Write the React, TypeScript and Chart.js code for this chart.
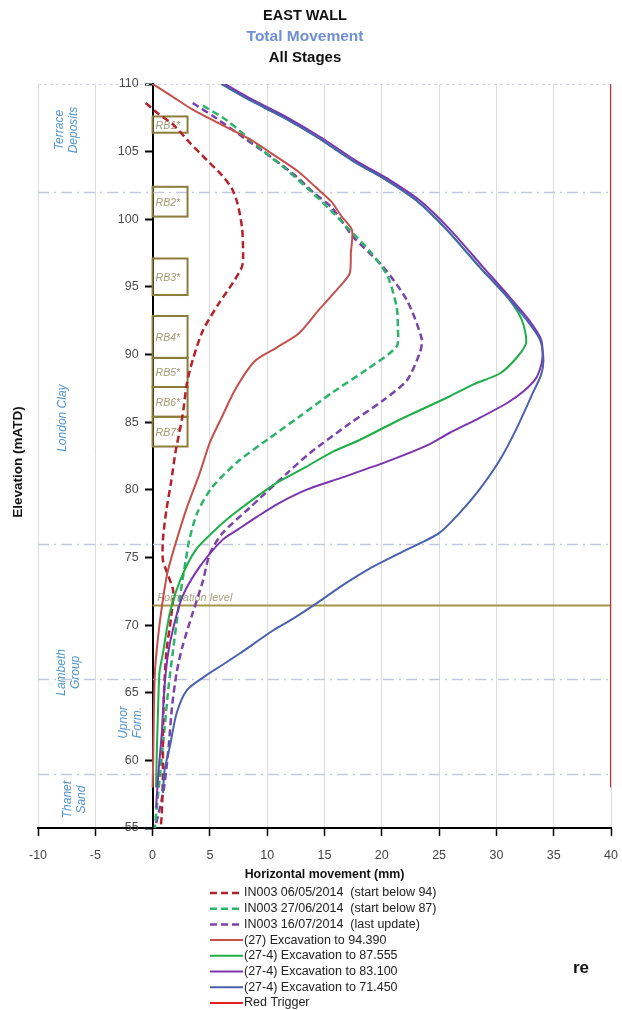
import React, { useEffect, useRef } from "react";
import { Chart, registerables } from "chart.js";

Chart.register(...registerables);

type Pt = [number, number]; // [horizontal movement (mm), elevation (mATD)]

const titleLines = ["EAST WALL", "Total Movement", "All Stages"];
const xAxisTitle = "Horizontal movement (mm)";
const yAxisTitle = "Elevation (mATD)";
const strayText = "re";

const xMin = -10;
const xMax = 40;
const xStep = 5;
const yMin = 55;
const yMax = 110;
const yStep = 5;

const seriesLabels = [
  "IN003 06/05/2014  (start below 94)",
  "IN003 27/06/2014  (start below 87)",
  "IN003 16/07/2014  (last update)",
  "(27) Excavation to 94.390",
  "(27-4) Excavation to 87.555",
  "(27-4) Excavation to 83.100",
  "(27-4) Excavation to 71.450",
  "Red Trigger",
];

const in003_0605: Pt[] = [
  [-0.6, 108.6], [0.5, 107.8], [1.8, 107.0], [3.2, 105.7], [4.7, 104.4], [6.0, 103.3],
  [6.9, 102.3], [7.4, 101.2], [7.8, 99.4], [7.9, 97.5], [7.8, 96.5], [7.0, 95.3],
  [5.8, 93.8], [4.4, 91.8], [3.5, 89.6], [3.0, 87.9], [2.6, 85.4], [2.0, 82.8],
  [1.6, 80.5], [1.2, 78.5], [0.9, 76.3], [0.9, 74.8], [1.3, 73.8], [1.8, 72.5],
  [1.6, 70.5], [1.2, 68.0], [1.0, 65.0], [0.9, 62.0], [0.9, 59.0], [0.8, 56.0], [0.7, 55.0],
];

const in003_2706: Pt[] = [
  [4.4, 108.4], [6.5, 107.3], [9.3, 105.3], [11.5, 103.8], [13.5, 102.3], [15.5, 100.7],
  [17.2, 99.2], [19.0, 97.6], [20.5, 95.8], [21.3, 93.5], [21.4, 92.0], [21.3, 90.6],
  [18.7, 88.9], [15.7, 87.2], [12.8, 85.4], [10.0, 83.7], [7.6, 82.2], [5.2, 80.2],
  [3.9, 78.3], [3.2, 76.3], [2.9, 74.8], [2.6, 73.3], [2.2, 70.9], [1.75, 67.9],
  [1.4, 65.5], [1.0, 62.0], [0.6, 58.5], [0.3, 56.0], [0.2, 55.0],
];

const in003_1607: Pt[] = [
  [3.5, 108.6], [5.5, 107.5], [8.0, 106.0], [10.5, 104.5], [12.5, 103.2], [14.0, 102.0],
  [15.6, 100.9], [17.5, 98.7], [20.1, 96.5], [22.2, 94.0], [23.5, 91.1], [23.3, 90.1],
  [22.2, 88.1], [20.1, 86.6], [17.2, 84.9], [13.7, 82.7], [11.7, 81.2], [8.5, 78.7],
  [6.1, 76.8], [5.0, 75.3], [4.4, 73.3], [3.5, 70.9], [2.6, 68.4], [2.1, 66.5],
  [1.7, 64.0], [1.4, 61.0], [1.0, 58.0], [0.5, 56.0], [0.2, 55.0],
];

const exc27_94390: Pt[] = [
  [0, 110], [1.5, 109.2], [3.5, 108.1], [6.0, 107.0], [8.5, 105.9], [10.5, 104.8],
  [12.6, 103.6], [14.2, 102.4], [15.6, 101.3], [16.5, 100.2], [17.4, 99.2], [17.3, 97.5],
  [17.2, 96.0], [16.3, 95.0], [14.5, 93.3], [12.8, 91.6], [10.8, 90.5], [8.9, 89.5],
  [7.2, 87.4], [6.0, 85.3], [5.0, 83.5], [4.1, 81.2], [3.0, 78.7], [2.1, 76.3],
  [1.3, 73.9], [0.8, 71.3], [0.45, 68.9], [0.2, 66.5], [0.1, 63.0], [0.05, 60.0], [0, 58.0],
];

const exc274_87555: Pt[] = [
  [6.0, 110], [8.5, 108.8], [11.5, 107.5], [14.3, 106.1], [17.5, 104.3], [20.4, 102.9],
  [23.0, 101.4], [25.7, 99.2], [28.5, 96.5], [30.9, 94.3], [32.2, 92.6], [32.6, 90.9],
  [31.8, 89.8], [30.3, 88.6], [28.0, 87.8], [25.9, 86.9], [21.6, 85.2], [18.1, 83.7],
  [15.7, 82.8], [13.4, 81.7], [11.0, 80.6], [9.1, 79.5], [7.2, 78.3], [5.8, 77.3],
  [3.8, 75.6], [2.4, 73.3], [1.5, 70.9], [0.9, 67.9], [0.6, 66.5], [0.45, 63.0],
  [0.35, 60.0], [0.3, 58.0],
];

const exc274_83100: Pt[] = [
  [6.3, 110], [8.8, 108.8], [11.8, 107.5], [14.6, 106.1], [17.8, 104.3], [20.7, 102.9],
  [23.3, 101.4], [26.0, 99.2], [28.8, 96.5], [31.1, 94.3], [32.8, 92.6], [33.9, 91.1],
  [34.0, 89.6], [33.5, 88.3], [32.4, 87.3], [30.9, 86.4], [28.5, 85.3], [25.9, 84.2],
  [24.0, 83.3], [20.5, 82.1], [16.5, 80.9], [13.4, 80.0], [11.0, 79.0], [9.1, 78.0],
  [7.5, 77.1], [6.1, 76.3], [4.1, 74.3], [2.6, 72.1], [1.75, 69.6], [1.3, 67.6],
  [1.0, 65.0], [0.8, 62.0], [0.5, 59.0], [0.3, 56.5],
];

const exc274_71450: Pt[] = [
  [6.0, 110], [8.5, 108.8], [11.5, 107.5], [14.3, 106.1], [17.5, 104.3], [20.4, 102.9],
  [23.0, 101.4], [25.7, 99.2], [28.5, 96.5], [30.9, 94.3], [32.6, 92.6], [33.8, 91.1],
  [34.1, 89.6], [33.9, 88.5], [33.2, 87.2], [31.8, 84.6], [30.3, 82.2], [28.5, 80.0],
  [26.8, 78.3], [25.0, 76.8], [22.0, 75.5], [19.2, 74.3], [16.5, 72.9], [14.3, 71.6],
  [12.3, 70.5], [10.5, 69.6], [7.6, 67.9], [5.8, 66.9], [4.7, 66.3], [3.0, 65.2],
  [2.1, 63.5], [1.5, 61.0], [1.05, 59.3], [0.9, 57.6],
];

const redTrigger: Pt[] = [[40, 110], [40, 58]];

const seriesData: Pt[][] = [
  in003_0605, in003_2706, in003_1607, exc27_94390, exc274_87555, exc274_83100, exc274_71450, redTrigger,
];

const seriesColors = ["#b5222a", "#2db36a", "#7a44a8", "#c4504c", "#1fae48", "#7b35b0", "#4a62ae", "#e31e24"];
const seriesDashed = [true, true, true, false, false, false, false, false];
// lower number = drawn on top
const seriesOrder = [4, 5, 6, 3, 2, 1, 0, 7];

const formationLevel = 71.45;
const formationLabel = "Formation level";

const layerBoundaries = [102, 76, 66, 59];
const layerNames = [["Terrace", "Deposits"], ["London Clay"], ["Lambeth", "Group"], ["Upnor", "Form."], ["Thanet", "Sand"]];
const layerLabelElev = [106.6, 85.3, 66.5, 62.8, 57.1];
const layerLabelMm = [-7.5, -7.85, -7.3, -1.9, -6.8];

const rbNames = ["RB1*", "RB2*", "RB3*", "RB4*", "RB5*", "RB6*", "RB7*"];
const rbTop = [107.6, 102.4, 97.1, 92.85, 89.75, 87.6, 85.4];
const rbBottom = [106.4, 100.2, 94.4, 89.75, 87.6, 85.4, 83.2];
const rbRightMm = 3.05;

const FONT = "'Liberation Sans', Arial, sans-serif";

const overlayPlugin = {
  id: "overlay",
  beforeDatasetsDraw(chart: any) {
    const { ctx, chartArea } = chart;
    const x = chart.scales.x;
    const y = chart.scales.y;
    ctx.save();
    // faint top line
    ctx.strokeStyle = "#d6dae6";
    ctx.lineWidth = 1;
    ctx.setLineDash([3, 3]);
    ctx.beginPath();
    ctx.moveTo(chartArea.left, chartArea.top + 0.5);
    ctx.lineTo(chartArea.right, chartArea.top + 0.5);
    ctx.stroke();
    // layer boundaries (dash-dot)
    ctx.strokeStyle = "#c3c9dc";
    ctx.lineWidth = 1.5;
    ctx.setLineDash([11, 5, 2, 5]);
    for (const e of layerBoundaries) {
      const py = Math.round(y.getPixelForValue(e)) + 0.5;
      ctx.beginPath();
      ctx.moveTo(chartArea.left, py);
      ctx.lineTo(chartArea.right, py);
      ctx.stroke();
    }
    ctx.setLineDash([]);
    // layer labels
    ctx.fillStyle = "#4f95cf";
    ctx.font = `italic 12px ${FONT}`;
    ctx.textAlign = "center";
    ctx.textBaseline = "middle";
    layerNames.forEach((lines, i) => {
      const px = x.getPixelForValue(layerLabelMm[i]);
      const py = y.getPixelForValue(layerLabelElev[i]);
      ctx.save();
      ctx.translate(px, py);
      ctx.rotate(-Math.PI / 2);
      lines.forEach((t, j) => {
        ctx.fillText(t, 0, (j - (lines.length - 1) / 2) * 14);
      });
      ctx.restore();
    });
    // y tick labels (left of the axis drawn at x = 0)
    const axisX = x.getPixelForValue(0);
    ctx.fillStyle = "#4a4a4a";
    ctx.font = `12.5px ${FONT}`;
    ctx.textAlign = "right";
    ctx.textBaseline = "middle";
    y.ticks.forEach((t: any) => {
      ctx.fillText(String(t.value), axisX - 14, y.getPixelForValue(t.value));
    });
    // RB boxes
    const l = x.getPixelForValue(0);
    const r = x.getPixelForValue(rbRightMm);
    rbNames.forEach((name, i) => {
      const t = y.getPixelForValue(rbTop[i]);
      const b = y.getPixelForValue(rbBottom[i]);
      ctx.strokeStyle = "#8c7c3a";
      ctx.lineWidth = 2;
      ctx.strokeRect(l, t, r - l, b - t);
      ctx.fillStyle = "#a29b72";
      ctx.font = `italic 10.5px ${FONT}`;
      ctx.textAlign = "left";
      ctx.textBaseline = "middle";
      ctx.fillText(name, l + 3, (t + b) / 2 + 1);
    });
    // formation level
    const fy = y.getPixelForValue(formationLevel);
    ctx.fillStyle = "#a7a282";
    ctx.font = `italic 11px ${FONT}`;
    ctx.textAlign = "left";
    ctx.textBaseline = "bottom";
    ctx.fillText(formationLabel, x.getPixelForValue(0.4), fy - 2);
    ctx.strokeStyle = "#a39447";
    ctx.lineWidth = 2;
    ctx.beginPath();
    ctx.moveTo(x.getPixelForValue(0), fy);
    ctx.lineTo(x.getPixelForValue(40), fy);
    ctx.stroke();
    ctx.restore();
  },
  afterDraw(chart: any) {
    const { ctx, chartArea } = chart;
    ctx.save();
    // titles
    ctx.textAlign = "center";
    ctx.textBaseline = "middle";
    const titleColors = ["#111111", "#6f90d2", "#111111"];
    const titleSizes = [14.5, 15.5, 15];
    const titleY = [16, 37, 58];
    titleLines.forEach((t, i) => {
      ctx.fillStyle = titleColors[i];
      ctx.font = `bold ${titleSizes[i]}px ${FONT}`;
      ctx.fillText(t, 305, titleY[i]);
    });
    // axis titles
    ctx.fillStyle = "#111111";
    ctx.font = `bold 12.4px ${FONT}`;
    ctx.fillText(xAxisTitle, (chartArea.left + chartArea.right) / 2, 875);
    ctx.save();
    ctx.translate(18, 462);
    ctx.rotate(-Math.PI / 2);
    ctx.font = `bold 13.5px ${FONT}`;
    ctx.fillText(yAxisTitle, 0, 0);
    ctx.restore();
    // legend
    const ds = chart.data.datasets;
    ds.forEach((d: any, i: number) => {
      const yy = 893 + i * 15.7;
      ctx.strokeStyle = d.borderColor;
      ctx.lineWidth = d.borderWidth;
      ctx.setLineDash(d.borderDash || []);
      ctx.beginPath();
      ctx.moveTo(210, yy);
      ctx.lineTo(243, yy);
      ctx.stroke();
      ctx.setLineDash([]);
      ctx.fillStyle = "#222222";
      ctx.font = `12.5px ${FONT}`;
      ctx.textAlign = "left";
      ctx.textBaseline = "middle";
      ctx.fillText(d.label, 244, yy);
    });
    // stray fragment
    ctx.fillStyle = "#111111";
    ctx.font = `bold 17px ${FONT}`;
    ctx.textAlign = "left";
    ctx.fillText(strayText, 573, 968);
    ctx.restore();
  },
};

export default function App() {
  const ref = useRef<HTMLCanvasElement>(null);
  useEffect(() => {
    if (!ref.current) return;
    const datasets = seriesData.map((pts, i) => ({
      label: seriesLabels[i],
      data: pts.map(([vx, vy]) => ({ x: vx, y: vy })),
      showLine: true,
      order: seriesOrder[i],
      borderColor: seriesColors[i],
      backgroundColor: seriesColors[i],
      borderWidth: seriesDashed[i] ? 2.5 : 2,
      borderDash: seriesDashed[i] ? [7, 4] : [],
      pointRadius: 0,
      tension: 0.25,
      fill: false,
    }));
    const chart = new Chart(ref.current, {
      type: "scatter",
      data: { datasets },
      options: {
        responsive: false,
        animation: false,
        devicePixelRatio: 1,
        layout: { padding: { top: 84, left: 38, right: 11, bottom: 142 } },
        plugins: { legend: { display: false }, tooltip: { enabled: false }, title: { display: false } },
        scales: {
          x: {
            type: "linear",
            position: "bottom",
            min: xMin,
            max: xMax,
            afterFit: (s: any) => {
              s.height = 40;
              s.paddingLeft = 0;
              s.paddingRight = 0;
            },
            ticks: { stepSize: xStep, padding: 12, color: "#444", font: { size: 12.5, family: FONT } },
            grid: { color: "#dcdcdc", lineWidth: 1, tickColor: "#000", tickLength: 8, tickWidth: 1.5 },
            border: { display: true, color: "#000", width: 2 },
          },
          y: {
            type: "linear",
            position: { x: 0 } as any,
            min: yMin,
            max: yMax,
            ticks: { stepSize: yStep, display: false },
            grid: { drawOnChartArea: false, drawTicks: true, tickLength: 7, tickColor: "#000", tickWidth: 2 },
            border: { display: true, color: "#000", width: 2 },
          },
        },
      },
      plugins: [overlayPlugin],
    });
    return () => chart.destroy();
  }, []);
  return (
    <div style={{ position: "absolute", left: 0, top: 0, width: 622, height: 1010, background: "#fff" }}>
      <canvas ref={ref} width={622} height={1010} style={{ display: "block" }} />
    </div>
  );
}
